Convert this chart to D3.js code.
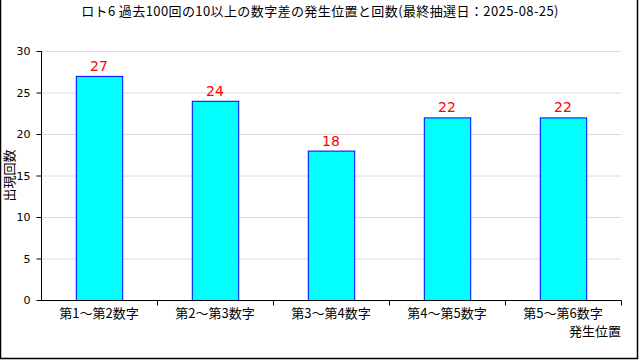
<!DOCTYPE html>
<html>
<head>
<meta charset="utf-8" />
<script src="https://cdnjs.cloudflare.com/ajax/libs/d3/7.8.5/d3.min.js"></script>
<style>
  body { margin: 0; background: #fff; }
  svg { display: block; font-family: "Noto Sans CJK JP", "DejaVu Sans", sans-serif; }
</style>
</head>
<body>
<div id="chart"></div>
<script>
const categories = ["第1～第2数字", "第2～第3数字", "第3～第4数字", "第4～第5数字", "第5～第6数字"];
const counts = [27, 24, 18, 22, 22];
const yTicks = [0, 5, 10, 15, 20, 25, 30];

const width = 640, height = 360;
const plotLeft = 41, plotRight = 621, plotTop = 51, plotBottom = 300;

const svg = d3.select("#chart").append("svg")
  .attr("width", width)
  .attr("height", height);

svg.append("rect").attr("width", width).attr("height", height).attr("fill", "#fff");

// frame (left, right, bottom)
svg.append("path")
  .attr("d", "M0.5,0V358.5H637.5V0")
  .attr("fill", "none")
  .attr("stroke", "#000")
  .attr("stroke-width", 1.5);

const x = d3.scaleBand().domain(categories).range([plotLeft, plotRight]);
const y = d3.scaleLinear().domain([0, 30]).range([plotBottom, plotTop]);

// grid lines
svg.selectAll(".grid")
  .data(yTicks.filter(d => d > 0))
  .join("line")
  .attr("x1", plotLeft).attr("x2", plotRight)
  .attr("y1", d => y(d) + 0.5).attr("y2", d => y(d) + 0.5)
  .attr("stroke", "#dcdcdc");

// bars
const barW = x.bandwidth() * 0.4;
svg.selectAll(".bar")
  .data(counts)
  .join("rect")
  .attr("x", (d, i) => x(categories[i]) + (x.bandwidth() - barW) / 2 + 0.5)
  .attr("y", d => y(d) + 0.5)
  .attr("width", barW)
  .attr("height", d => plotBottom - y(d))
  .attr("fill", "#00ffff")
  .attr("stroke", "#0000ff");

// value labels
svg.selectAll(".val")
  .data(counts)
  .join("text")
  .attr("x", (d, i) => x(categories[i]) + x.bandwidth() / 2)
  .attr("y", d => y(d) - 5)
  .attr("text-anchor", "middle")
  .attr("font-size", 14)
  .attr("fill", "#ff0000")
  .style("font-family", "'DejaVu Sans', sans-serif")
  .text(d => d);

// y axis
const yAxis = svg.append("g")
  .attr("transform", `translate(${plotLeft + 0.5},0)`)
  .call(d3.axisLeft(y).tickValues(yTicks).tickSize(5).tickPadding(6));
yAxis.select(".domain").attr("d", `M0,${plotTop}V${plotBottom + 0.5}`);
yAxis.selectAll("text").attr("font-size", 11).attr("fill", "#000")
  .style("font-family", "'DejaVu Sans', sans-serif");

// x axis
const xAxis = svg.append("g")
  .attr("transform", `translate(0,${plotBottom + 0.5})`);
xAxis.append("line")
  .attr("x1", plotLeft).attr("x2", plotRight + 0.5)
  .attr("stroke", "#000");
xAxis.selectAll(".tk")
  .data(categories)
  .join("line")
  .attr("x1", d => x(d) + x.bandwidth() + 0.5)
  .attr("x2", d => x(d) + x.bandwidth() + 0.5)
  .attr("y1", 0).attr("y2", 5)
  .attr("stroke", "#000");
xAxis.selectAll(".lbl")
  .data(categories)
  .join("text")
  .attr("x", d => x(d) + x.bandwidth() / 2)
  .attr("y", 17)
  .attr("text-anchor", "middle")
  .attr("font-size", 13)
  .text(d => d);

// axis titles
svg.append("text")
  .attr("x", plotRight)
  .attr("y", 336)
  .attr("text-anchor", "end")
  .attr("font-size", 13)
  .text("発生位置");

svg.append("text")
  .attr("transform", `translate(14,${(plotTop + plotBottom) / 2}) rotate(-90)`)
  .attr("text-anchor", "middle")
  .attr("font-size", 13)
  .text("出現回数");

// title
svg.append("text")
  .attr("x", 320)
  .attr("y", 16)
  .attr("text-anchor", "middle")
  .attr("font-size", 13)
  .attr("letter-spacing", 0.4)
  .text("ロト6 過去100回の10以上の数字差の発生位置と回数(最終抽選日：2025-08-25)");
</script>
</body>
</html>
